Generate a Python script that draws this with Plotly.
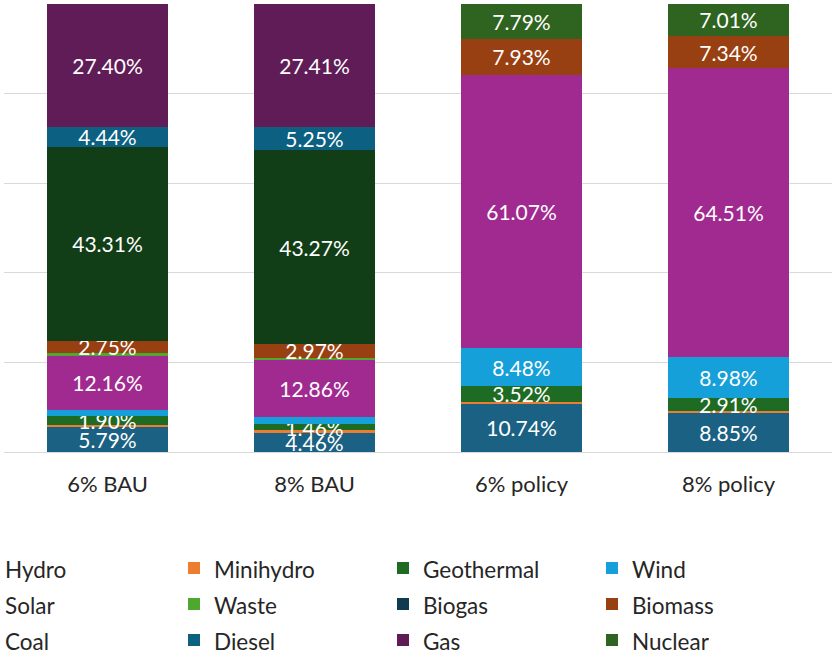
import plotly.graph_objects as go

categories = ["6% BAU", "8% BAU", "6% policy", "8% policy"]

hydro      = [5.79, 4.46, 10.74, 8.85]
minihydro  = [0.25, 0.35, 0.47, 0.40]
geothermal = [1.90, 1.46, 3.52, 2.91]
wind       = [1.40, 1.45, 8.48, 8.98]
solar      = [12.16, 12.86, 61.07, 64.51]
waste      = [0.60, 0.52, 0.0, 0.0]
biogas     = [0.0, 0.0, 0.0, 0.0]
biomass    = [2.75, 2.97, 7.93, 7.34]
coal       = [43.31, 43.27, 0.0, 0.0]
diesel     = [4.44, 5.25, 0.0, 0.0]
gas        = [27.40, 27.41, 0.0, 0.0]
nuclear    = [0.0, 0.0, 7.79, 7.01]

series_names = ["Hydro", "Minihydro", "Geothermal", "Wind", "Solar", "Waste",
                "Biogas", "Biomass", "Coal", "Diesel", "Gas", "Nuclear"]
series_values = [hydro, minihydro, geothermal, wind, solar, waste,
                 biogas, biomass, coal, diesel, gas, nuclear]
series_colors = ["#1B6184", "#ED7D31", "#1E6B24", "#16A0D9", "#A02A90", "#4EA72E",
                 "#0F3A4F", "#994012", "#123E17", "#0C6082", "#601C57", "#2F6420"]

LABEL_MIN = 1.46
FONT = "Lato"

fig = go.Figure()
for name, vals, col in zip(series_names, series_values, series_colors):
    texts = [f"{v:.2f}%" if v >= LABEL_MIN else "" for v in vals]
    fig.add_trace(go.Bar(
        name=f"<span style='font-size:22.5px'>{name}</span>",
        x=categories, y=vals, marker=dict(color=col, line=dict(width=0)),
        text=texts, textposition="inside", insidetextanchor="middle",
        textangle=0, constraintext="none", cliponaxis=False,
        textfont=dict(color="white", size=21, family=FONT),
    ))

fig.update_layout(
    width=833, height=654,
    barmode="stack", bargap=0.415,
    paper_bgcolor="white", plot_bgcolor="white",
    margin=dict(l=4, r=1, t=4, b=202, autoexpand=False),
    font=dict(family=FONT, size=20, color="#262626"),
    xaxis=dict(showgrid=False, showline=False, ticks="", ticklabelstandoff=17,
               tickfont=dict(size=22, color="#262626")),
    yaxis=dict(range=[0, 100.05], tickvals=[0, 20, 40, 60, 80, 100],
               showticklabels=False, showgrid=True,
               gridcolor="#D9D9D9", gridwidth=1.3, zeroline=True,
               zerolinecolor="#D9D9D9", zerolinewidth=1.3),
    legend=dict(orientation="h", traceorder="normal", xref="paper", yref="paper",
                x=-0.0471, xanchor="left", y=-0.2073, yanchor="top",
                entrywidthmode="pixels", entrywidth=164,
                font=dict(size=25.4, color="#262626", family=FONT)),
    showlegend=True,
)

fig.write_html("out.html", config={"displayModeBar": False},
               post_script="document.body.style.margin='0';")
